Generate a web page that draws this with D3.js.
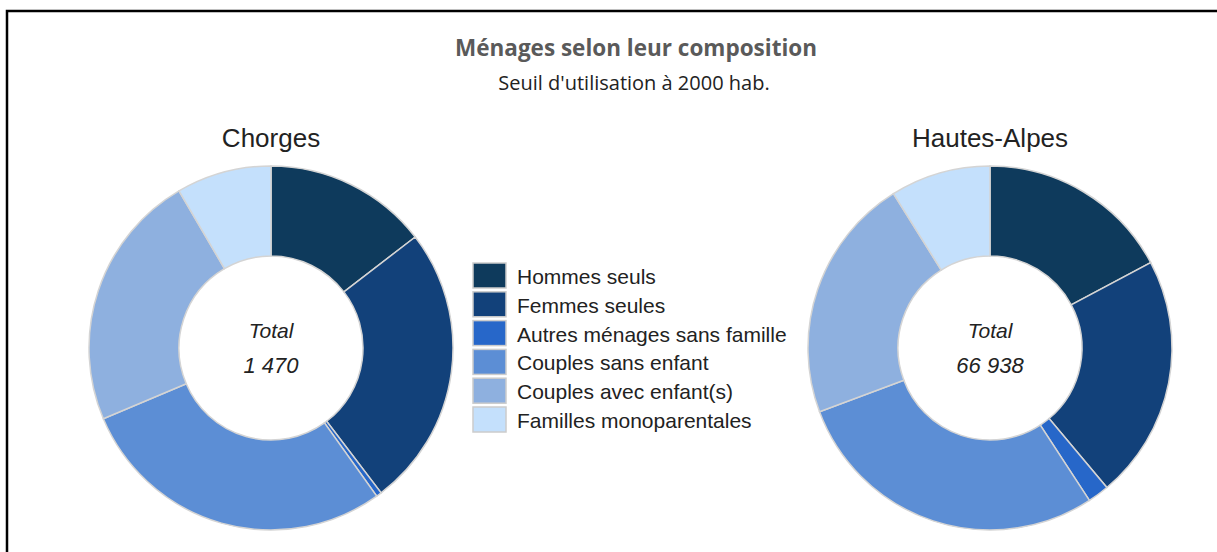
<!DOCTYPE html>
<html>
<head>
<meta charset="utf-8">
<script src="https://cdn.jsdelivr.net/npm/d3@7"></script>
<style>
  body { margin: 0; background: #fff; }
  svg { display: block; }
</style>
</head>
<body>
<div id="canvas"></div>
<script>
const categories = ['Hommes seuls', 'Femmes seules', 'Autres ménages sans famille',
  'Couples sans enfant', 'Couples avec enfant(s)', 'Familles monoparentales'];
const colors = ['#0e3a5c', '#12417a', '#2767c9', '#5c8ed5', '#8eb0df', '#c4e0fc'];
const places = ['Chorges', 'Hautes-Alpes'];
const chorgesValues = [214, 369, 7, 419, 337, 124];
const hautesAlpesValues = [11530, 14510, 1272, 19077, 14592, 5957];
const totals = ['1 470', '66 938'];

const width = 1217, height = 552;
const svg = d3.select('#canvas')
  .append('svg')
    .attr('width', width)
    .attr('height', height);

// frame (left + top only visible)
svg.append('path')
  .attr('d', `M7,${height} V11 H${width}`)
  .attr('fill', 'none')
  .attr('stroke', '#000')
  .attr('stroke-width', 2.5);

svg.append('text')
  .attr('x', 636).attr('y', 56)
  .attr('text-anchor', 'middle')
  .attr('font-family', '"Open Sans", sans-serif')
  .attr('font-weight', 'bold')
  .attr('font-size', 22.5)
  .attr('fill', '#5a5a5a')
  .text('Ménages selon leur composition');
svg.append('text')
  .attr('x', 634).attr('y', 90)
  .attr('text-anchor', 'middle')
  .attr('font-family', '"Open Sans", sans-serif')
  .attr('font-size', 20)
  .attr('fill', '#222')
  .text("Seuil d'utilisation à 2000 hab.");

const color = d3.scaleOrdinal().domain(categories).range(colors);
const pie = d3.pie().sort(null);
const outerR = 182, innerR = 92;
const arc = d3.arc().innerRadius(innerR).outerRadius(outerR);
const centers = [[271, 348], [990, 348]];
const series = [chorgesValues, hautesAlpesValues];

series.forEach((vals, i) => {
  const g = svg.append('g')
    .attr('transform', `translate(${centers[i][0]},${centers[i][1]})`);
  g.selectAll('path')
    .data(pie(vals))
    .join('path')
    .attr('d', arc)
    .attr('fill', (d, j) => color(categories[j]))
    .attr('stroke', '#d4d4d4')
    .attr('stroke-width', 1.5);
  g.append('text')
    .attr('y', -201)
    .attr('text-anchor', 'middle')
    .attr('font-family', '"Liberation Sans", Arial, sans-serif')
    .attr('font-size', 26)
    .attr('fill', '#222')
    .text(places[i]);
  g.append('text')
    .attr('y', -10)
    .attr('text-anchor', 'middle')
    .attr('font-family', '"Liberation Sans", Arial, sans-serif')
    .attr('font-style', 'italic')
    .attr('font-size', 21)
    .attr('fill', '#222')
    .text('Total');
  g.append('text')
    .attr('y', 25)
    .attr('text-anchor', 'middle')
    .attr('font-family', '"Liberation Sans", Arial, sans-serif')
    .attr('font-style', 'italic')
    .attr('font-size', 22)
    .attr('fill', '#222')
    .text(totals[i]);
});

// legend
const legend = svg.append('g').attr('transform', 'translate(473,263)');
const item = legend.selectAll('g')
  .data(categories)
  .join('g')
  .attr('transform', (d, i) => `translate(0,${i * 28.8})`);
item.append('rect')
  .attr('width', 33).attr('height', 25)
  .attr('fill', d => color(d))
  .attr('stroke', '#ccc')
  .attr('stroke-width', 1.5);
item.append('text')
  .attr('x', 44).attr('y', 21)
  .attr('font-family', '"Liberation Sans", Arial, sans-serif')
  .attr('font-size', 21)
  .attr('fill', '#222')
  .text(d => d);
</script>
</body>
</html>
